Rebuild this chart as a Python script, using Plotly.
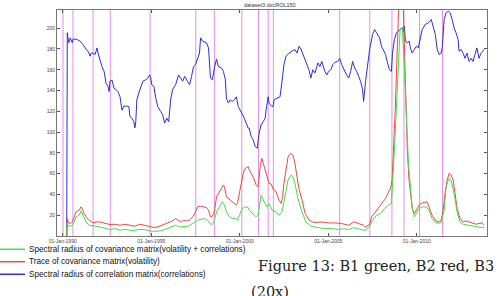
import plotly.graph_objects as go

# ---------------- data (decimal years, values) ----------------
blue_x = [1990.23, 1990.26, 1990.34, 1990.43, 1990.54, 1990.60, 1990.82, 1990.99, 1991.16, 1991.33, 1991.44,
          1991.55, 1991.61, 1991.72, 1991.83, 1991.94, 1992.00, 1992.11, 1992.22, 1992.34, 1992.45, 1992.56,
          1992.62, 1992.67, 1992.79, 1992.90, 1993.01, 1993.12, 1993.24, 1993.35, 1993.46, 1993.63, 1993.74,
          1993.80, 1993.91, 1994.02, 1994.08, 1994.13, 1994.19, 1994.30, 1994.42, 1994.53, 1994.70, 1994.81,
          1994.92, 1994.98, 1995.03, 1995.15, 1995.26, 1995.37, 1995.54, 1995.65, 1995.76, 1995.88, 1995.99,
          1996.10, 1996.21, 1996.38, 1996.55, 1996.66, 1996.78, 1996.89, 1997.00, 1997.17, 1997.28, 1997.39,
          1997.51, 1997.62, 1997.73, 1997.79, 1997.90, 1998.12, 1998.24, 1998.35, 1998.46, 1998.57, 1998.69,
          1998.80, 1998.97, 1999.08, 1999.19, 1999.25, 1999.36, 1999.47, 1999.58, 1999.70, 1999.81, 1999.92,
          2000.03, 2000.15, 2000.26, 2000.48, 2000.54, 2000.65, 2000.76, 2000.88, 2000.99, 2001.10, 2001.21,
          2001.33, 2001.44, 2001.49, 2001.61, 2001.66, 2001.78, 2001.89, 2001.94, 2002.11, 2002.28, 2002.39,
          2002.50, 2002.62, 2002.79, 2002.96, 2003.12, 2003.24, 2003.35, 2003.46, 2003.57, 2003.69, 2003.80,
          2003.91, 2004.02, 2004.13, 2004.25, 2004.42, 2004.53, 2004.64, 2004.81, 2004.92, 2005.03, 2005.15,
          2005.26, 2005.37, 2005.54, 2005.65, 2005.76, 2005.88, 2006.04, 2006.16, 2006.27, 2006.38, 2006.49,
          2006.61, 2006.72, 2006.83, 2006.94, 2007.00, 2007.11, 2007.22, 2007.34, 2007.51, 2007.62, 2007.73,
          2007.90, 2008.01, 2008.13, 2008.24, 2008.35, 2008.46, 2008.57, 2008.63, 2008.74, 2008.85, 2008.97,
          2009.08, 2009.19, 2009.25, 2009.30, 2009.36, 2009.47, 2009.58, 2009.64, 2009.75, 2009.87, 2009.98,
          2010.09, 2010.20, 2010.31, 2010.48, 2010.65, 2010.82, 2010.93, 2011.05, 2011.16, 2011.27, 2011.38,
          2011.44, 2011.55, 2011.66, 2011.78, 2011.89, 2012.00, 2012.11, 2012.22, 2012.34, 2012.39, 2012.51,
          2012.62, 2012.73, 2012.84, 2012.96, 2013.07, 2013.18, 2013.29, 2013.40, 2013.52, 2013.63, 2013.74,
          2013.80]
blue_y = [0, 195.6, 186, 190.7, 186, 189.8, 189, 187.5, 184, 179.4, 177.8,
          173, 176, 176, 174.6, 181, 176, 168, 163, 158.5, 147, 144,
          139, 149, 150, 142, 141, 139, 134, 121, 125, 125, 124.6,
          115, 113.4, 110, 104, 110, 131, 137.6, 144, 149, 150.4, 152,
          155, 152, 145.6, 144, 132.7, 124.6, 119.8, 116.6, 108.6, 113.4, 110,
          131, 141, 145.6, 155, 152, 149, 153.6, 150, 145.6, 153.6, 163,
          165, 171, 176, 190.7, 187.5, 186, 181, 152, 150.4, 161.7, 170.4,
          163, 161.7, 158.5, 150.4, 132.7, 128, 131, 129.5, 131, 134, 124.6,
          121.4, 116.6, 113.4, 103.8, 103.8, 95.7, 92.5, 86, 84.4, 99, 107,
          110, 113.4, 121.4, 134, 128, 125.3, 124.6, 131, 132.7, 134, 148.8,
          165, 173, 176, 177.8, 179.4, 176, 182.6, 180, 174.6, 169.8, 165,
          160, 152, 160, 156.9, 166.6, 163, 168, 158.5, 155, 158.5, 160,
          165, 167, 168, 171, 165, 160, 155, 152, 158.5, 168, 161.7,
          158.5, 153.6, 148.8, 140.8, 129.5, 148.8, 163, 179.4, 194, 198.7, 195.6,
          190.7, 182.6, 177.8, 174.6, 166.6, 160, 158.5, 176, 189, 195.6, 197,
          199.4, 200.4, 197, 202, 187.5, 186, 187.5, 181, 176, 179.4, 182.6,
          181, 189, 198.7, 203.6, 205, 208.4, 200.4, 194, 179.4, 174.6, 176,
          181, 208.4, 214.8, 216.4, 214.8, 208.4, 200.4, 195.6, 189, 177.8, 179.4,
          176, 171, 176, 168, 171, 168, 174.6, 181, 171, 176, 177.8,
          179.4]

red_x = [1990.23, 1990.26, 1990.34, 1990.43, 1990.54, 1990.65, 1990.76, 1990.93, 1991.04, 1991.10, 1991.21,
         1991.33, 1991.49, 1991.72, 1991.89, 1992.11, 1992.39, 1992.67, 1992.96, 1993.24, 1993.52, 1993.80,
         1994.08, 1994.36, 1994.64, 1994.92, 1995.20, 1995.48, 1995.76, 1996.04, 1996.21, 1996.38, 1996.49,
         1996.66, 1996.83, 1997.00, 1997.17, 1997.34, 1997.51, 1997.62, 1997.79, 1997.96, 1998.12, 1998.24,
         1998.35, 1998.46, 1998.57, 1998.69, 1998.80, 1998.97, 1999.08, 1999.14, 1999.25, 1999.36, 1999.53,
         1999.64, 1999.75, 1999.81, 1999.87, 1999.98, 2000.09, 2000.20, 2000.31, 2000.48, 2000.54, 2000.65,
         2000.76, 2000.93, 2001.04, 2001.16, 2001.25, 2001.33, 2001.44, 2001.55, 2001.66, 2001.78, 2001.89,
         2002.06, 2002.22, 2002.34, 2002.42, 2002.50, 2002.62, 2002.73, 2002.87, 2003.01, 2003.12, 2003.24,
         2003.35, 2003.52, 2003.69, 2003.91, 2004.19, 2004.58, 2005.03, 2005.42, 2005.76, 2006.16, 2006.44,
         2006.72, 2007.00, 2007.11, 2007.34, 2007.45, 2007.67, 2007.84, 2008.01, 2008.24, 2008.41, 2008.52,
         2008.61, 2008.78, 2008.97, 2009.08, 2009.19, 2009.30, 2009.47, 2009.56, 2009.64, 2009.75, 2009.87,
         2009.98, 2010.14, 2010.25, 2010.42, 2010.59, 2010.76, 2010.87, 2011.04, 2011.21, 2011.38, 2011.49,
         2011.60, 2011.72, 2011.83, 2011.94, 2012.06, 2012.17, 2012.28, 2012.45, 2012.62, 2012.79, 2013.01,
         2013.18, 2013.35, 2013.52, 2013.69, 2013.80]
red_y = [0, 16.8, 12.6, 12, 13.5, 18.4, 23.2, 24.8, 28, 26.5, 21.6,
         18.4, 15.2, 12.6, 13.5, 13.5, 12, 11, 11.3, 10.3, 11.3, 10.3,
         9.4, 11.3, 10.3, 8.7, 8.1, 9.4, 11.3, 13.5, 14.5, 16.8, 15.2,
         13.5, 15.2, 14.5, 15.2, 18.4, 23.2, 28, 28.7, 28, 27.4, 24.8,
         18.4, 19, 23.2, 37.7, 41.5, 45.8, 49, 47.3, 37.7, 36.1, 34.5,
         32.9, 31.3, 29.7, 31.3, 40.9, 53.8, 60.3, 65, 66.7, 63.5, 60,
         57, 49, 47.3, 66.7, 74.8, 70, 63.5, 57, 50.6, 50, 45,
         42.5, 34.5, 31.3, 37, 50.6, 62, 76, 79.6, 78, 70, 55,
         45, 35, 22, 15.5, 13, 13.5, 12.6, 12.6, 12, 10.3, 13.5,
         12, 10.3, 8.7, 11.3, 18.4, 23.2, 26.5, 31.3, 36.1, 42.5, 45.8,
         53.8, 118, 215, 255, 250, 185, 82.8, 55, 44, 26.5, 21.6,
         24.8, 29.7, 31.3, 31.9, 32.9, 24.8, 20, 15.2, 13.5, 15.2, 24.8,
         40.9, 53.8, 60.3, 58.6, 53.8, 40.9, 26.5, 16.8, 13.5, 14.5, 13.5,
         12, 11.3, 12, 12.6, 10.3]

green_x = [1990.23, 1990.26, 1990.34, 1990.43, 1990.54, 1990.65, 1990.76, 1990.93, 1991.04, 1991.16, 1991.33,
           1991.49, 1991.72, 1991.89, 1992.11, 1992.39, 1992.67, 1992.96, 1993.24, 1993.52, 1993.80, 1994.08,
           1994.36, 1994.64, 1994.92, 1995.20, 1995.48, 1995.76, 1996.04, 1996.21, 1996.38, 1996.60, 1996.83,
           1997.06, 1997.28, 1997.45, 1997.62, 1997.79, 1998.01, 1998.18, 1998.35, 1998.46, 1998.57, 1998.69,
           1998.86, 1999.02, 1999.14, 1999.25, 1999.42, 1999.58, 1999.75, 1999.87, 1999.98, 2000.15, 2000.31,
           2000.48, 2000.54, 2000.76, 2000.93, 2001.04, 2001.21, 2001.38, 2001.55, 2001.66, 2001.83, 2002.06,
           2002.22, 2002.39, 2002.56, 2002.73, 2002.90, 2003.01, 2003.12, 2003.29, 2003.52, 2003.74, 2004.02,
           2004.36, 2004.75, 2005.15, 2005.59, 2005.88, 2006.16, 2006.44, 2006.72, 2007.00, 2007.17, 2007.34,
           2007.51, 2007.73, 2007.96, 2008.18, 2008.41, 2008.57, 2008.74, 2008.87, 2009.06, 2009.19, 2009.30,
           2009.53, 2009.64, 2009.75, 2009.87, 2009.98, 2010.14, 2010.31, 2010.54, 2010.70, 2010.87, 2011.04,
           2011.27, 2011.38, 2011.55, 2011.66, 2011.83, 2011.94, 2012.11, 2012.28, 2012.45, 2012.62, 2012.90,
           2013.18, 2013.46, 2013.80]
green_y = [0, 12, 9.4, 9.4, 10.3, 13.5, 18.4, 20, 23.9, 20, 13.5,
           10.3, 9.4, 9.4, 8.7, 7.1, 6.2, 7.1, 5.5, 6.5, 5.5, 5.5,
           6.5, 6.2, 4.8, 4.5, 4.8, 6.2, 8.1, 8.7, 10.3, 8.7, 9.4,
           9.4, 11.3, 13.5, 15.2, 15.8, 16.8, 15.2, 11.3, 11.3, 15.2, 23.2,
           28.7, 32.9, 29.7, 23.2, 18.4, 16.8, 16.8, 15.2, 20, 26.5, 28,
           27.4, 24.8, 21.6, 18.4, 20, 39.3, 32.9, 28, 31.3, 24.8, 23.2,
           20, 23.2, 37.7, 53.8, 58.6, 57, 50.6, 36.1, 23.2, 13.5, 9.4,
           8.1, 7.1, 7.1, 6.2, 7.1, 6.2, 8.1, 7.1, 5.5, 6.2, 9.4,
           15.2, 20, 21.6, 26.5, 29.7, 31.3, 82.8, 131, 198.7, 200, 163,
           70, 44, 26.5, 18.4, 21.6, 26.5, 28, 28, 24.8, 16.8, 13.5,
           12, 13.5, 24.8, 47.3, 55.4, 53.8, 40.9, 23.2, 13.5, 11.3, 10.3,
           9.4, 8.7, 8.1]

event_years = [1990.02, 1990.58, 1991.72, 1992.69, 1994.94, 1997.52, 1998.57, 2000.12, 2001.06,
               2001.61, 2001.90, 2005.65, 2007.35, 2008.60, 2009.28, 2010.16, 2011.46]

x_tick_vals = [1990, 1995, 2000, 2005, 2010]
x_tick_text = ["01-Jan-1990", "01-Jan-1995", "01-Jan-2000", "01-Jan-2005", "01-Jan-2010"]
y_tick_vals = [20, 40, 60, 80, 100, 120, 140, 160, 180, 200]

series_names = ["Spectral radius of covariance matrix(volatility + correlations)",
                "Trace of covariance matrix(volatility)",
                "Spectral radius of correlation matrix(correlations)"]
series_colors = ["#44dd44", "#e84a46", "#2e2ed2"]

title_text = "dataset3.dxcROL150"
caption_line1 = "Figure 13: B1 green, B2 red, B3"
caption_line2 = "(20x)"

# ---------------- figure ----------------
W, H = 500, 296
L, R, T, B = 57, 13, 10, 60
PW, PH = W - L - R, H - T - B


def px(x):
    return (x - L) / PW


def py(y):
    return (H - B - y) / PH


fig = go.Figure()

for xv in event_years:
    fig.add_shape(type="line", xref="x", yref="paper", x0=xv, x1=xv, y0=0, y1=1,
                  line=dict(color="#ea8cea", width=1), layer="below")

fig.add_trace(go.Scatter(x=blue_x, y=blue_y, mode="lines", line=dict(color=series_colors[2], width=1),
                         showlegend=False))
fig.add_trace(go.Scatter(x=red_x, y=red_y, mode="lines", line=dict(color=series_colors[1], width=1),
                         showlegend=False))
fig.add_trace(go.Scatter(x=green_x, y=green_y, mode="lines", line=dict(color=series_colors[0], width=1),
                         showlegend=False))

axis_common = dict(showline=True, linecolor="#777777", linewidth=1, mirror="ticks", ticks="inside",
                   ticklen=3, tickcolor="#555555", showgrid=False, zeroline=False,
                   tickfont=dict(family="Liberation Sans", size=5, color="#444444"))

fig.update_xaxes(range=[1989.68, 2013.97], tickvals=x_tick_vals, ticktext=x_tick_text, **axis_common)
fig.update_yaxes(range=[0, 217.5], tickvals=y_tick_vals, **axis_common)

annotations = [
    dict(text=title_text, xref="paper", yref="paper", x=px(270), y=py(5), showarrow=False,
         xanchor="center", yanchor="middle", font=dict(family="Liberation Sans", size=5.5, color="#333333")),
]

legend_rows = [249.3, 261.7, 274.3]
for name, col, yy in zip(series_names, series_colors, legend_rows):
    fig.add_shape(type="line", xref="paper", yref="paper", x0=px(0), x1=px(25), y0=py(yy), y1=py(yy),
                  line=dict(color=col, width=1.5))
    annotations.append(dict(text=name, xref="paper", yref="paper", x=px(27), y=py(yy), showarrow=False,
                            xanchor="left", yanchor="middle",
                            font=dict(family="Liberation Sans", size=8.2, color="#111111")))

annotations.append(dict(text=caption_line1, xref="paper", yref="paper", x=px(256), y=py(266), showarrow=False,
                        xanchor="left", yanchor="middle",
                        font=dict(family="DejaVu Serif", size=14.5, color="#222222")))
annotations.append(dict(text=caption_line2, xref="paper", yref="paper", x=px(249), y=py(292), showarrow=False,
                        xanchor="left", yanchor="middle",
                        font=dict(family="DejaVu Serif", size=14.5, color="#222222")))

fig.update_layout(width=W, height=H, margin=dict(l=L, r=R, t=T, b=B, pad=0),
                  paper_bgcolor="white", plot_bgcolor="white", annotations=annotations)

fig.write_html("out.html")
